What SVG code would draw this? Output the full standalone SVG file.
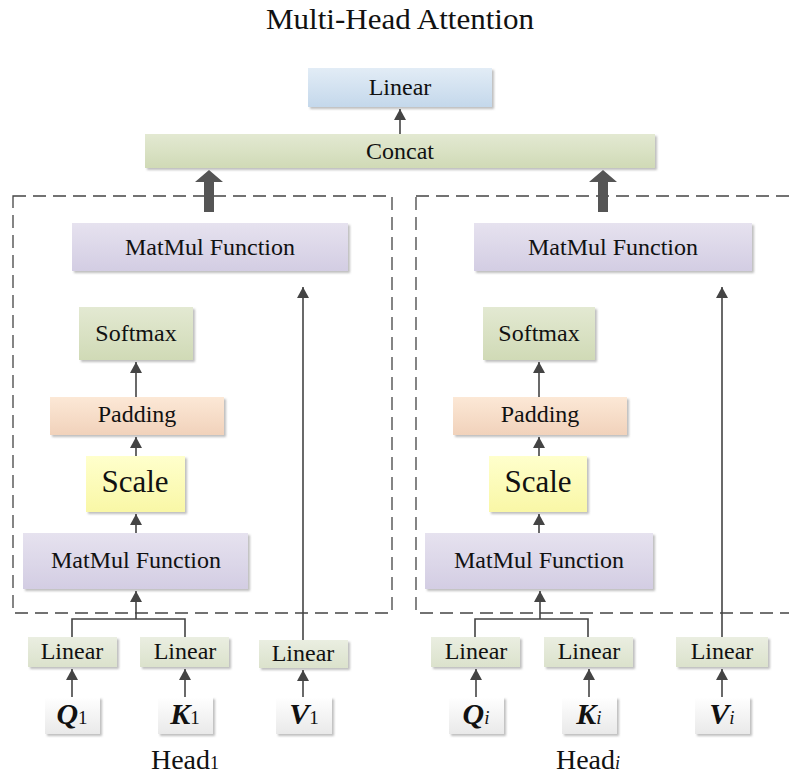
<svg xmlns="http://www.w3.org/2000/svg" width="789" height="780" viewBox="0 0 789 780">
  <defs>
    <linearGradient id="gBlue" x1="0" y1="0" x2="0" y2="1">
      <stop offset="0" stop-color="#e2ecf6"/><stop offset="1" stop-color="#c4d8eb"/>
    </linearGradient>
    <linearGradient id="gGreen" x1="0" y1="0" x2="0" y2="1">
      <stop offset="0" stop-color="#e3e9d2"/><stop offset="1" stop-color="#d0dab6"/>
    </linearGradient>
    <linearGradient id="gLav" x1="0" y1="0" x2="0" y2="1">
      <stop offset="0" stop-color="#e6e2ef"/><stop offset="1" stop-color="#d3cde3"/>
    </linearGradient>
    <linearGradient id="gPeach" x1="0" y1="0" x2="0" y2="1">
      <stop offset="0" stop-color="#fce8d6"/><stop offset="1" stop-color="#f1d2bb"/>
    </linearGradient>
    <linearGradient id="gYellow" x1="0" y1="0" x2="0" y2="1">
      <stop offset="0" stop-color="#ffffcc"/><stop offset="1" stop-color="#f9f7a6"/>
    </linearGradient>
    <linearGradient id="gLin" x1="0" y1="0" x2="0" y2="1">
      <stop offset="0" stop-color="#eaeee1"/><stop offset="1" stop-color="#dbe2cc"/>
    </linearGradient>
    <linearGradient id="gWhite" x1="0" y1="0" x2="0" y2="1">
      <stop offset="0" stop-color="#ffffff"/><stop offset="1" stop-color="#e9e9e9"/>
    </linearGradient>
    <filter id="shadow" x="-10%" y="-20%" width="125%" height="150%">
      <feDropShadow dx="2" dy="2" stdDeviation="1.2" flood-color="#888" flood-opacity="0.55"/>
    </filter>
    <marker id="arrow" markerUnits="userSpaceOnUse" markerWidth="12" markerHeight="12" refX="11" refY="6" orient="auto">
      <path d="M0,0 L11,6 L0,12 z" fill="#444"/>
    </marker>
  </defs>
  <style>
    text { font-family: "Liberation Serif", "Times New Roman", serif; fill: #111; text-anchor: middle; }
    .lbl { font-size: 24px; }
    .big { font-size: 31px; }
    .box { filter: url(#shadow); }
    .line { stroke: #444; stroke-width: 1.6; fill: none; }
    .arr { stroke: #444; stroke-width: 1.6; fill: none; marker-end: url(#arrow); }
    .dash { stroke: #444; stroke-width: 1.3; fill: none; stroke-dasharray: 13 7; }
    .thick { fill: #555; }
    .var { font-size: 30px; font-weight: bold; font-style: italic; }
    .sub { font-size: 19px; font-weight: normal; font-style: normal; }
    .subi { font-size: 19px; font-weight: normal; font-style: italic; }
    .head { font-size: 28px; }
  </style>

  <text x="400" y="29" font-size="29" textLength="268" lengthAdjust="spacingAndGlyphs">Multi-Head Attention</text>

  <!-- head frames -->
  <g id="frames">
    <rect class="dash" x="13" y="196" width="379" height="417"/>
    <rect class="dash" x="416" y="196" width="390" height="417"/>
  </g>

  <!-- output stage -->
  <g id="linear-out">
    <rect class="box" x="308" y="68" width="184" height="39" fill="url(#gBlue)"/>
    <text class="lbl" x="400" y="95">Linear</text>
  </g>
  <g id="concat">
    <rect class="box" x="145" y="134" width="510" height="34" fill="url(#gGreen)"/>
    <text class="lbl" x="400" y="159">Concat</text>
  </g>

  <!-- head 1 -->
  <g id="h1-matmul-top">
    <rect class="box" x="72" y="223" width="276" height="48" fill="url(#gLav)"/>
    <text class="lbl" x="210" y="255">MatMul Function</text>
  </g>
  <g id="h1-softmax">
    <rect class="box" x="79" y="307" width="114" height="53" fill="url(#gGreen)"/>
    <text class="lbl" x="136" y="341">Softmax</text>
  </g>
  <g id="h1-padding">
    <rect class="box" x="50" y="397" width="174" height="38" fill="url(#gPeach)"/>
    <text class="lbl" x="137" y="422">Padding</text>
  </g>
  <g id="h1-scale">
    <rect class="box" x="86" y="456" width="99" height="56" fill="url(#gYellow)"/>
    <text class="big" x="135" y="492">Scale</text>
  </g>
  <g id="h1-matmul">
    <rect class="box" x="23" y="533" width="225" height="56" fill="url(#gLav)"/>
    <text class="lbl" x="136" y="568">MatMul Function</text>
  </g>
  <g id="h1-lin-q">
    <rect class="box" x="28" y="637" width="89" height="30" fill="url(#gLin)"/>
    <text class="lbl" x="72" y="659">Linear</text>
  </g>
  <g id="h1-lin-k">
    <rect class="box" x="140" y="637" width="89" height="30" fill="url(#gLin)"/>
    <text class="lbl" x="185" y="659">Linear</text>
  </g>
  <g id="h1-lin-v">
    <rect class="box" x="259" y="640" width="89" height="28" fill="url(#gLin)"/>
    <text class="lbl" x="303" y="661">Linear</text>
  </g>
  <g id="h1-q">
    <rect class="box" x="45" y="697" width="55" height="37" fill="url(#gWhite)"/>
    <text class="var" x="72" y="724">Q<tspan class="sub">1</tspan></text>
  </g>
  <g id="h1-k">
    <rect class="box" x="158" y="697" width="55" height="37" fill="url(#gWhite)"/>
    <text class="var" x="185" y="724">K<tspan class="sub">1</tspan></text>
  </g>
  <g id="h1-v">
    <rect class="box" x="276" y="697" width="56" height="37" fill="url(#gWhite)"/>
    <text class="var" x="304" y="724">V<tspan class="sub">1</tspan></text>
  </g>
  <text class="head" x="185" y="769">Head<tspan font-size="18">1</tspan></text>

  <!-- head i -->
  <g id="hi-matmul-top">
    <rect class="box" x="474" y="223" width="278" height="48" fill="url(#gLav)"/>
    <text class="lbl" x="613" y="255">MatMul Function</text>
  </g>
  <g id="hi-softmax">
    <rect class="box" x="483" y="307" width="112" height="53" fill="url(#gGreen)"/>
    <text class="lbl" x="539" y="341">Softmax</text>
  </g>
  <g id="hi-padding">
    <rect class="box" x="453" y="397" width="174" height="38" fill="url(#gPeach)"/>
    <text class="lbl" x="540" y="422">Padding</text>
  </g>
  <g id="hi-scale">
    <rect class="box" x="489" y="456" width="98" height="56" fill="url(#gYellow)"/>
    <text class="big" x="538" y="492">Scale</text>
  </g>
  <g id="hi-matmul">
    <rect class="box" x="425" y="533" width="228" height="56" fill="url(#gLav)"/>
    <text class="lbl" x="539" y="568">MatMul Function</text>
  </g>
  <g id="hi-lin-q">
    <rect class="box" x="431" y="637" width="89" height="30" fill="url(#gLin)"/>
    <text class="lbl" x="476" y="659">Linear</text>
  </g>
  <g id="hi-lin-k">
    <rect class="box" x="544" y="637" width="89" height="30" fill="url(#gLin)"/>
    <text class="lbl" x="589" y="659">Linear</text>
  </g>
  <g id="hi-lin-v">
    <rect class="box" x="676" y="637" width="92" height="30" fill="url(#gLin)"/>
    <text class="lbl" x="722" y="659">Linear</text>
  </g>
  <g id="hi-q">
    <rect class="box" x="449" y="697" width="55" height="37" fill="url(#gWhite)"/>
    <text class="var" x="476" y="724">Q<tspan class="subi">i</tspan></text>
  </g>
  <g id="hi-k">
    <rect class="box" x="562" y="697" width="55" height="37" fill="url(#gWhite)"/>
    <text class="var" x="589" y="724">K<tspan class="subi">i</tspan></text>
  </g>
  <g id="hi-v">
    <rect class="box" x="695" y="697" width="55" height="37" fill="url(#gWhite)"/>
    <text class="var" x="722" y="724">V<tspan class="subi">i</tspan></text>
  </g>
  <text class="head" x="588" y="769">Head<tspan font-size="18" font-style="italic">i</tspan></text>

  <!-- connectors -->
  <g id="connectors">
    <line class="arr" x1="400" y1="134" x2="400" y2="109"/>
    <polygon class="thick" points="209,170 223,182 214,182 214,212 204,212 204,182 195,182"/>
    <polygon class="thick" points="603,170 617,182 608,182 608,212 598,212 598,182 589,182"/>

    <!-- head 1 -->
    <line class="arr" x1="136" y1="397" x2="136" y2="362"/>
    <line class="arr" x1="136" y1="456" x2="136" y2="437"/>
    <line class="arr" x1="136" y1="533" x2="136" y2="514"/>
    <polyline class="line" points="72,637 72,619 185,619 185,637"/>
    <line class="arr" x1="136" y1="619" x2="136" y2="591"/>
    <line class="arr" x1="303" y1="640" x2="303" y2="287"/>
    <line class="arr" x1="72" y1="697" x2="72" y2="669"/>
    <line class="arr" x1="185" y1="697" x2="185" y2="669"/>
    <line class="arr" x1="303" y1="697" x2="303" y2="670"/>

    <!-- head i -->
    <line class="arr" x1="539" y1="397" x2="539" y2="362"/>
    <line class="arr" x1="539" y1="456" x2="539" y2="437"/>
    <line class="arr" x1="539" y1="533" x2="539" y2="514"/>
    <polyline class="line" points="475,637 475,619 588,619 588,637"/>
    <line class="arr" x1="540" y1="619" x2="540" y2="591"/>
    <line class="arr" x1="722" y1="637" x2="722" y2="287"/>
    <line class="arr" x1="476" y1="697" x2="476" y2="669"/>
    <line class="arr" x1="589" y1="697" x2="589" y2="669"/>
    <line class="arr" x1="722" y1="697" x2="722" y2="669"/>
  </g>
</svg>
